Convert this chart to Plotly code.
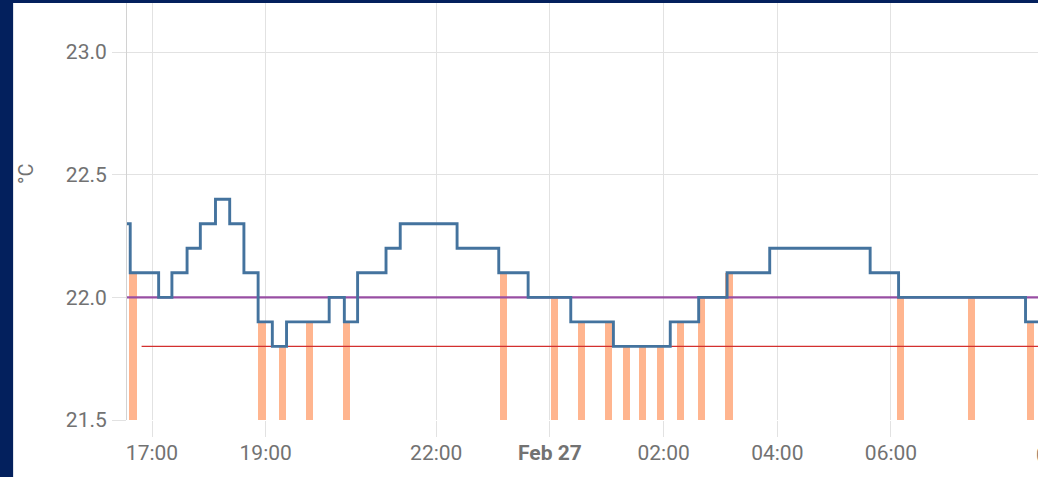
import plotly.graph_objects as go
import pandas as pd

# ---------------- data ----------------
# measured room temperature (step changes)
temp_times = [
    "2023-02-26 16:30", "2023-02-26 16:37", "2023-02-26 17:07", "2023-02-26 17:21",
    "2023-02-26 17:37", "2023-02-26 17:51", "2023-02-26 18:07", "2023-02-26 18:22",
    "2023-02-26 18:37", "2023-02-26 18:52", "2023-02-26 19:07", "2023-02-26 19:22",
    "2023-02-26 20:07", "2023-02-26 20:23", "2023-02-26 20:37", "2023-02-26 21:07",
    "2023-02-26 21:22", "2023-02-26 22:22", "2023-02-26 23:06", "2023-02-26 23:37",
    "2023-02-27 00:22", "2023-02-27 01:07", "2023-02-27 02:07", "2023-02-27 02:37",
    "2023-02-27 03:07", "2023-02-27 03:52", "2023-02-27 05:38", "2023-02-27 06:08",
    "2023-02-27 08:22", "2023-02-27 08:40",
]
temp_values = [
    22.3, 22.1, 22.0, 22.1,
    22.2, 22.3, 22.4, 22.3,
    22.1, 21.9, 21.8, 21.9,
    22.0, 21.9, 22.1, 22.2,
    22.3, 22.2, 22.1, 22.0,
    21.9, 21.8, 21.9, 22.0,
    22.1, 22.2, 22.1, 22.0,
    21.9, 21.9,
]

# target temperature (high) and low setpoint
target_times = ["2023-02-26 16:30", "2023-02-27 08:40"]
target_values = [22.0, 22.0]
low_times = ["2023-02-26 16:49", "2023-02-27 08:40"]
low_values = [21.8, 21.8]

# heating active moments (drawn as bars up to the current temperature)
heat_times = [
    "2023-02-26 16:40", "2023-02-26 18:56", "2023-02-26 19:18", "2023-02-26 19:46",
    "2023-02-26 20:25", "2023-02-26 23:11", "2023-02-27 00:05", "2023-02-27 00:33",
    "2023-02-27 01:02", "2023-02-27 01:21", "2023-02-27 01:38", "2023-02-27 01:57",
    "2023-02-27 02:18", "2023-02-27 02:40", "2023-02-27 03:09", "2023-02-27 06:10",
    "2023-02-27 07:25", "2023-02-27 08:27",
]
heat_values = [
    22.1, 21.9, 21.8, 21.9,
    21.9, 22.1, 22.0, 21.9,
    21.9, 21.8, 21.8, 21.8,
    21.9, 22.0, 22.1, 22.0,
    22.0, 21.9,
]

y_base = 21.5
x_start = "2023-02-26 16:33:36"
x_end = "2023-02-27 08:35:10"

tick_times = ["2023-02-26 17:00", "2023-02-26 19:00", "2023-02-26 22:00",
              "2023-02-27 00:00", "2023-02-27 02:00", "2023-02-27 04:00",
              "2023-02-27 06:00"]
tick_labels = ["17:00", "19:00", "22:00", "<b>Feb 27</b>", "02:00", "04:00", "06:00"]
next_tick_time = "2023-02-27 09:00"
next_tick_label = "09:00"

# ---------------- styles ----------------
NAVY = "#03205d"
GRID = "#e2e2e2"
AXIS = "#d2d2d2"
TXT = "#727272"
FONT = "Roboto"

fig = go.Figure()

fig.add_trace(go.Bar(
    x=pd.to_datetime(heat_times),
    y=[v - y_base for v in heat_values],
    base=y_base,
    width=460000,
    marker=dict(color="#ffb58f", line=dict(width=0)),
    hoverinfo="skip",
))
fig.add_trace(go.Scatter(
    x=pd.to_datetime(target_times), y=target_values, mode="lines",
    line=dict(color="#984ea3", width=2.2),
))
fig.add_trace(go.Scatter(
    x=pd.to_datetime(low_times), y=low_values, mode="lines",
    line=dict(color="#d3302f", width=1.3),
))
fig.add_trace(go.Scatter(
    x=pd.to_datetime(temp_times), y=temp_values, mode="lines",
    line=dict(color="#44739e", width=2.9, shape="hv"),
))

# white card behind the chart
fig.add_shape(type="rect", xref="paper", yref="paper",
              x0=-0.125, x1=1.3, y0=-0.4, y1=1.0,
              fillcolor="white", line=dict(width=0), layer="below")

t0 = pd.Timestamp(x_start)
t1 = pd.Timestamp(x_end)
nx = (pd.Timestamp(next_tick_time) - t0) / (t1 - t0)
fig.add_annotation(text=next_tick_label, xref="paper", yref="paper",
                   x=nx, y=-0.0845, xanchor="center", yanchor="middle",
                   showarrow=False, font=dict(family=FONT, size=21, color=TXT))

fig.add_annotation(text="°C", xref="paper", yref="paper",
                   x=-0.111, y=0.592, xanchor="center", yanchor="middle",
                   textangle=-90, showarrow=False,
                   font=dict(family=FONT, size=20, color=TXT))

fig.update_layout(
    width=1038, height=477,
    margin=dict(l=127, r=0, t=3, b=57, pad=0),
    paper_bgcolor=NAVY, plot_bgcolor="white",
    showlegend=False,
    bargap=0,
    hovermode=False,
    xaxis=dict(
        type="date", range=[x_start, x_end],
        tickvals=pd.to_datetime(tick_times), ticktext=tick_labels,
        showgrid=True, gridcolor=GRID, gridwidth=1,
        ticks="outside", ticklen=16, tickcolor=GRID, tickwidth=1,
        showline=False, zeroline=False,
        tickfont=dict(family=FONT, size=21, color=TXT),
        ticklabelstandoff=-2,
    ),
    yaxis=dict(
        range=[21.5, 23.2], tick0=21.5, dtick=0.5, tickformat=".1f",
        showgrid=True, gridcolor=GRID, gridwidth=1,
        ticks="outside", ticklen=14, tickcolor=GRID, tickwidth=1,
        showline=True, linecolor=AXIS, linewidth=1, zeroline=False,
        tickfont=dict(family=FONT, size=21, color=TXT),
        ticklabelstandoff=1,
    ),
)

fig.write_html(
    "out.html",
    config={"displayModeBar": False},
    post_script="document.body.style.margin='0';document.body.style.overflow='hidden';",
)
